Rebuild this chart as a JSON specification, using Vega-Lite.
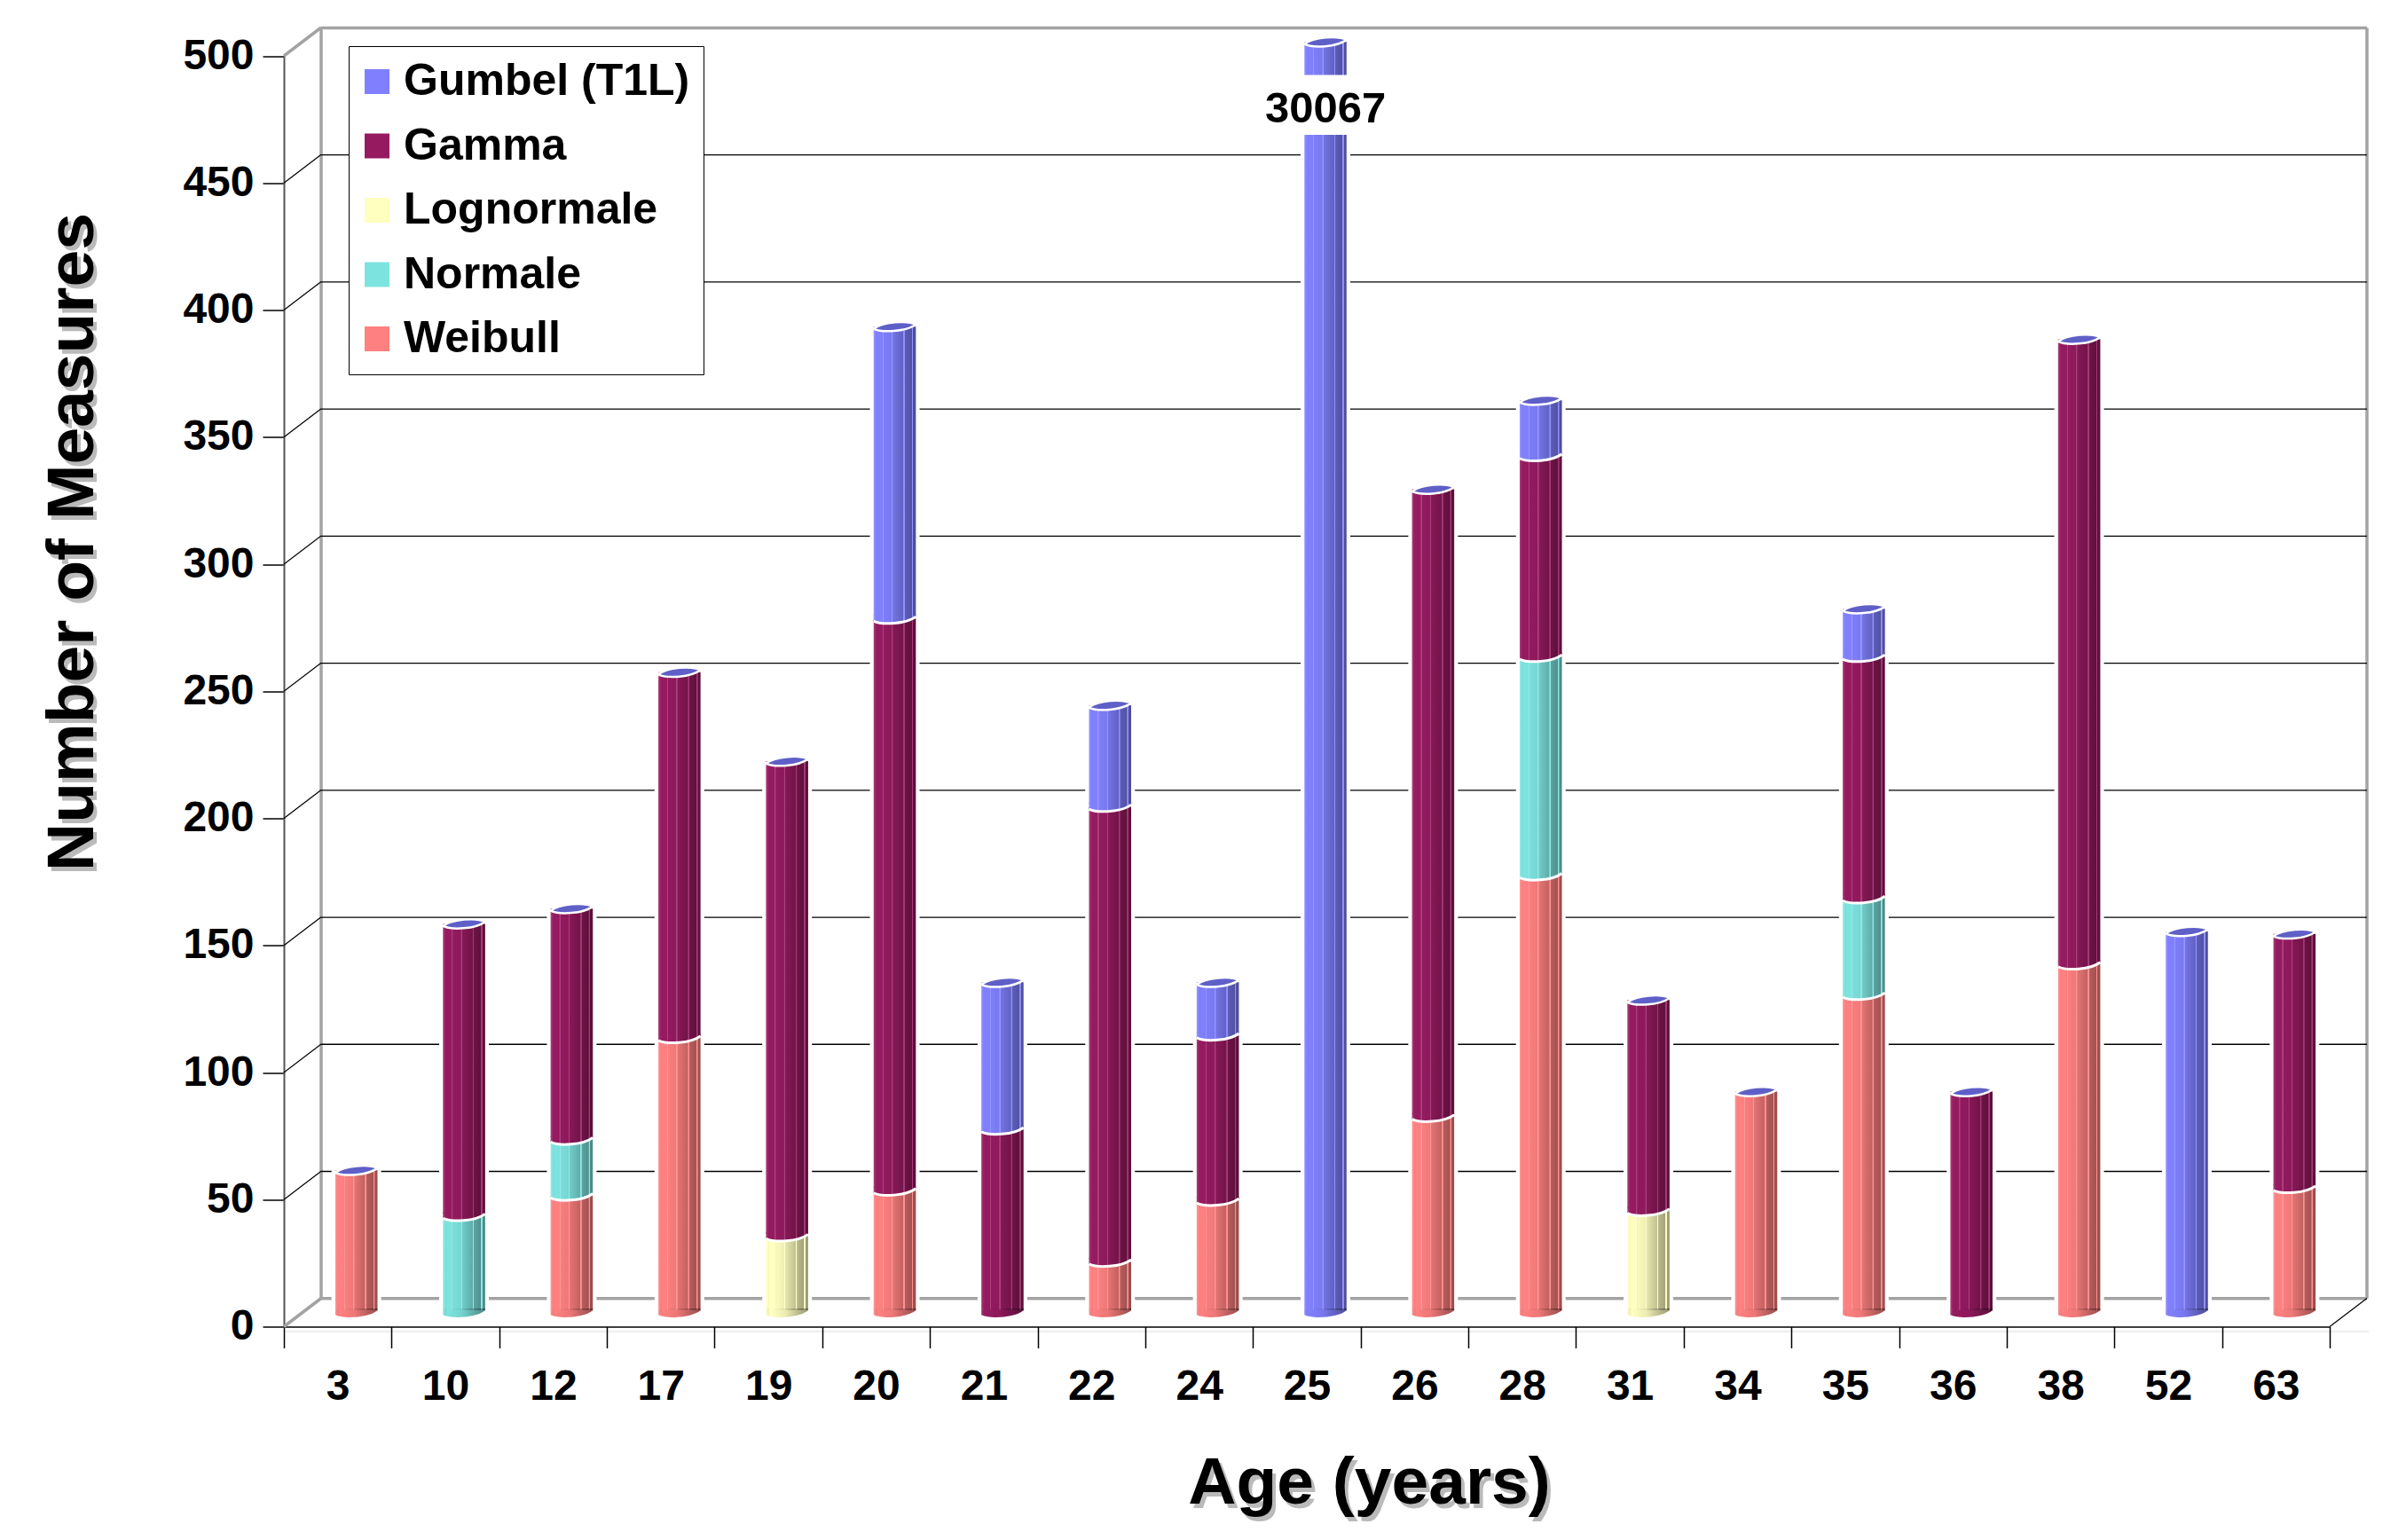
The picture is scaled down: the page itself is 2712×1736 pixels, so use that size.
{
"$schema":"https://vega.github.io/schema/vega-lite/v6.json",
"width":2350,"height":1466,
"padding":{"left":320,"top":29.5,"right":42,"bottom":240},
"autosize":{"type":"none"},
"background":"white",
"config":{"view":{"stroke":null},"font":"Liberation Sans"},
"datasets":{
"stack":[
{"age":"3","distribution":"Weibull","n":56,"rank":1},
{"age":"10","distribution":"Normale","n":38,"rank":2},
{"age":"10","distribution":"Gamma","n":115,"rank":4},
{"age":"12","distribution":"Weibull","n":46,"rank":1},
{"age":"12","distribution":"Normale","n":22,"rank":2},
{"age":"12","distribution":"Gamma","n":91,"rank":4},
{"age":"17","distribution":"Weibull","n":108,"rank":1},
{"age":"17","distribution":"Gamma","n":144,"rank":4},
{"age":"19","distribution":"Lognormale","n":30,"rank":3},
{"age":"19","distribution":"Gamma","n":187,"rank":4},
{"age":"20","distribution":"Weibull","n":48,"rank":1},
{"age":"20","distribution":"Gamma","n":225,"rank":4},
{"age":"20","distribution":"Gumbel (T1L)","n":115,"rank":5},
{"age":"21","distribution":"Gamma","n":72,"rank":4},
{"age":"21","distribution":"Gumbel (T1L)","n":58,"rank":5},
{"age":"22","distribution":"Weibull","n":20,"rank":1},
{"age":"22","distribution":"Gamma","n":179,"rank":4},
{"age":"22","distribution":"Gumbel (T1L)","n":40,"rank":5},
{"age":"24","distribution":"Weibull","n":44,"rank":1},
{"age":"24","distribution":"Gamma","n":65,"rank":4},
{"age":"24","distribution":"Gumbel (T1L)","n":21,"rank":5},
{"age":"25","distribution":"Gumbel (T1L)","n":30067,"rank":5},
{"age":"26","distribution":"Weibull","n":77,"rank":1},
{"age":"26","distribution":"Gamma","n":247,"rank":4},
{"age":"28","distribution":"Weibull","n":172,"rank":1},
{"age":"28","distribution":"Normale","n":86,"rank":2},
{"age":"28","distribution":"Gamma","n":79,"rank":4},
{"age":"28","distribution":"Gumbel (T1L)","n":22,"rank":5},
{"age":"31","distribution":"Lognormale","n":40,"rank":3},
{"age":"31","distribution":"Gamma","n":83,"rank":4},
{"age":"34","distribution":"Weibull","n":87,"rank":1},
{"age":"35","distribution":"Weibull","n":125,"rank":1},
{"age":"35","distribution":"Normale","n":38,"rank":2},
{"age":"35","distribution":"Gamma","n":95,"rank":4},
{"age":"35","distribution":"Gumbel (T1L)","n":19,"rank":5},
{"age":"36","distribution":"Gamma","n":87,"rank":4},
{"age":"38","distribution":"Weibull","n":137,"rank":1},
{"age":"38","distribution":"Gamma","n":246,"rank":4},
{"age":"52","distribution":"Gumbel (T1L)","n":150,"rank":5},
{"age":"63","distribution":"Weibull","n":49,"rank":1},
{"age":"63","distribution":"Gamma","n":100,"rank":4}
],
"grid":[{"v":50},{"v":100},{"v":150},{"v":200},{"v":250},{"v":300},{"v":350},{"v":400},{"v":450}],
"rim":[{"v":0},{"v":500}],
"edges":[{"edge":0},{"edge":1}],
"ages":[{"age":"3"},{"age":"10"},{"age":"12"},{"age":"17"},{"age":"19"},{"age":"20"},{"age":"21"},{"age":"22"},{"age":"24"},{"age":"25"},{"age":"26"},{"age":"28"},{"age":"31"},{"age":"34"},{"age":"35"},{"age":"36"},{"age":"38"},{"age":"52"},{"age":"63"}]
},
"layer":[
{"data":{"name":"ages"},"mark":{"type":"rule","opacity":0},
 "encoding":{"x":{"field":"age","type":"nominal","sort":null,"scale":{"domain":["3","10","12","17","19","20","21","22","24","25","26","28","31","34","35","36","38","52","63"],"range":[4,2310],"paddingInner":0,"paddingOuter":0},
 "axis":{"orient":"bottom","title":"Age (years)","titleFontSize":75,"titleFont":"Liberation Sans","titleFontWeight":"bold","titleColor":"#8c8c8c","titleOpacity":0.6,"titleX":1227,"titleY":204,"titleAlign":"center","titleBaseline":"alphabetic","labels":false,"ticks":false,"domain":false}}}},
{"data":{"name":"rim"},"mark":{"type":"rule","opacity":0},
 "encoding":{"y":{"field":"v","type":"quantitative","scale":{"domain":[0,500],"range":[1471,38.5]},
 "axis":{"orient":"left","title":"Number of Measures","titleFontSize":75,"titleFont":"Liberation Sans","titleFontWeight":"bold","titleColor":"#8c8c8c","titleOpacity":0.6,"titleX":-212,"titleY":586,"titleAngle":-90,"titleAlign":"center","titleBaseline":"alphabetic","labels":false,"ticks":false,"domain":false,"values":[0]}}}},
{"data":{"name":"ages"},"mark":{"type":"rule","opacity":0},
 "encoding":{"x":{"field":"age","type":"nominal","sort":null,"scale":{"domain":["3","10","12","17","19","20","21","22","24","25","26","28","31","34","35","36","38","52","63"],"range":[0,2306],"paddingInner":0,"paddingOuter":0},
 "axis":{"orient":"bottom","title":"Age (years)","titleFontSize":75,"titleFont":"Liberation Sans","titleFontWeight":"bold","titleColor":"black","titleX":1223,"titleY":199,"titleAlign":"center","titleBaseline":"alphabetic","labelFont":"Liberation Sans","labelFontWeight":"bold","labelFontSize":48,"labelColor":"black","labelAngle":0,"labelPadding":20,"tickBand":"extent","tickSize":24,"tickColor":"black","tickWidth":1.5,"domainColor":"black","domainWidth":1.5,"grid":false}}}},
{"data":{"name":"edges"},"mark":{"type":"rule","color":"#a3a3a3","strokeWidth":3.5},
 "encoding":{"x":{"field":"edge","type":"quantitative","scale":{"domain":[0,1],"range":[42,2348]},"axis":null},
 "y":{"datum":0,"type":"quantitative","scale":{"domain":[0,500],"range":[1434.2,2]},"axis":null},"y2":{"datum":500}}},
{"data":{"name":"grid"},"mark":{"type":"rule","color":"black","strokeWidth":1.3},
 "encoding":{"x":{"datum":0,"type":"quantitative","scale":{"domain":[0,1],"range":[42,2348]},"axis":null},"x2":{"datum":1},
 "y":{"field":"v","type":"quantitative","scale":{"domain":[0,500],"range":[1434.2,2]},"axis":null}}},
{"data":{"name":"rim"},"mark":{"type":"rule","color":"#a3a3a3","strokeWidth":3.5},
 "encoding":{"x":{"datum":0,"type":"quantitative","scale":{"domain":[0,1],"range":[42,2348]},"axis":null},"x2":{"datum":1},
 "y":{"field":"v","type":"quantitative","scale":{"domain":[0,500],"range":[1434.2,2]},"axis":null}}},
{"data":{"name":"grid"},"mark":{"type":"rule","color":"black","strokeWidth":1.2,"y2Offset":-32},
 "encoding":{"x":{"datum":0,"type":"quantitative","scale":{"domain":[0,1],"range":[0,42]},"axis":null},"x2":{"datum":1},
 "y":{"field":"v","type":"quantitative","scale":{"domain":[0,500],"range":[1466,33.5]},
 "axis":{"orient":"left","title":"Number of Measures","titleFontSize":75,"titleFont":"Liberation Sans","titleFontWeight":"bold","titleColor":"black","titleX":-216,"titleY":581,"titleAngle":-90,"titleAlign":"center","titleBaseline":"alphabetic","values":[0,50,100,150,200,250,300,350,400,450,500],"labelFont":"Liberation Sans","labelFontWeight":"bold","labelFontSize":48,"labelColor":"black","labelPadding":10,"tickSize":24,"tickColor":"black","tickWidth":1.5,"domainColor":"#555555","domainWidth":2,"grid":false}},"y2":{"field":"v"}}},
{"data":{"name":"rim"},"mark":{"type":"rule","color":"#a3a3a3","strokeWidth":3.5,"y2Offset":-32},
 "encoding":{"x":{"datum":0,"type":"quantitative","scale":{"domain":[0,1],"range":[0,42]},"axis":null},"x2":{"datum":1},
 "y":{"field":"v","type":"quantitative","scale":{"domain":[0,500],"range":[1466,33.5]},"axis":null},"y2":{"field":"v"}}},
{"data":{"values":[{"v":0}]},"mark":{"type":"rule","color":"black","strokeWidth":1.2,"y2Offset":-32},
 "encoding":{"x":{"datum":0,"type":"quantitative","scale":{"domain":[0,1],"range":[2306,2348]},"axis":null},"x2":{"datum":1},
 "y":{"field":"v","type":"quantitative","scale":{"domain":[0,500],"range":[1466,33.5]},"axis":null},"y2":{"field":"v"}}},
{"data":{"name":"stack"},
 "transform":[
  {"stack":"n","groupby":["age"],"sort":[{"field":"rank","order":"ascending"}],"as":["y0","y1"]},
  {"joinaggregate":[{"op":"max","field":"y1","as":"top"}],"groupby":["age"]}
 ],
 "encoding":{"x":{"field":"age","type":"nominal","sort":null,"scale":{"domain":["3","10","12","17","19","20","21","22","24","25","26","28","31","34","35","36","38","52","63"],"range":[21,2327],"paddingInner":0,"paddingOuter":0},"axis":null}},
 "layer":[
 {"mark":{"type":"bar","fill":"white","width":56},
  "encoding":{"y":{"field":"y1","type":"quantitative","scale":{"domain":[0,500],"range":[1450.25,17.75],"clamp":true},"axis":null},"y2":{"field":"y0"}}},
 {"mark":{"type":"bar","width":47.5,"y2Offset":-3},
  "encoding":{"y":{"field":"y1","type":"quantitative","scale":{"domain":[0,500],"range":[1450.25,17.75],"clamp":true},"axis":null},"y2":{"field":"y0"},
  "color":{"field":"distribution","type":"nominal","scale":{"domain":["Gumbel (T1L)","Gamma","Lognormale","Normale","Weibull"],"range":["#8080ff","#961a60","#ffffc0","#7de3df","#ff8080"]},
  "legend":{"title":null,"orient":"none","legendX":73,"legendY":22.5,"symbolType":"square","symbolSize":784,"symbolStrokeWidth":0,"symbolOpacity":1,"symbolOffset":-8,"labelFont":"Liberation Sans","labelFontWeight":"bold","labelFontSize":50,"labelColor":"black","labelOffset":5,"labelLimit":600,"rowPadding":22.5,"padding":15,"strokeColor":"black","fillColor":"white"}}}},
 {"mark":{"type":"point","filled":true,"opacity":1,"size":2256,"shape":"M-1,-.2 L-1,.105 C-.6,.30 .55,.25 1,-.105 L1,-.2 Z"},
  "encoding":{"y":{"field":"y0","type":"quantitative","scale":{"domain":[0,500],"range":[1450.25,17.75],"clamp":true},"axis":null},
  "color":{"field":"distribution","type":"nominal","legend":null}}},
 {"transform":[{"filter":"datum.y1 === datum.top"}],
  "mark":{"type":"bar","width":47.5,"y2Offset":-3,"fill":{"gradient":"linear","x1":0,"x2":1,"y1":0,"y2":0,"stops":[{"offset":0,"color":"rgba(255,255,255,0.22)"},{"offset":0.03,"color":"rgba(255,255,255,0.08)"},{"offset":0.1,"color":"rgba(0,0,0,0)"},{"offset":0.2,"color":"rgba(0,0,0,0)"},{"offset":0.21,"color":"rgba(255,255,255,0.18)"},{"offset":0.23,"color":"rgba(255,255,255,0.18)"},{"offset":0.24,"color":"rgba(0,0,0,0.02)"},{"offset":0.42,"color":"rgba(0,0,0,0.06)"},{"offset":0.43,"color":"rgba(255,255,255,0.18)"},{"offset":0.45,"color":"rgba(255,255,255,0.18)"},{"offset":0.46,"color":"rgba(0,0,0,0.1)"},{"offset":0.7,"color":"rgba(0,0,0,0.24)"},{"offset":0.71,"color":"rgba(255,255,255,0.14)"},{"offset":0.73,"color":"rgba(255,255,255,0.14)"},{"offset":0.74,"color":"rgba(0,0,0,0.28)"},{"offset":0.9,"color":"rgba(0,0,0,0.36)"},{"offset":0.91,"color":"rgba(255,255,255,0.14)"},{"offset":0.93,"color":"rgba(255,255,255,0.14)"},{"offset":0.94,"color":"rgba(0,0,0,0.38)"},{"offset":1,"color":"rgba(0,0,0,0.4)"}]}},
  "encoding":{"y":{"field":"top","type":"quantitative","scale":{"domain":[0,500],"range":[1450.25,17.75],"clamp":true},"axis":null},"y2":{"datum":0}}},
 {"transform":[{"filter":"datum.y1 === datum.top"}],
  "mark":{"type":"point","filled":true,"opacity":1,"size":2256,"shape":"M-1,-.2 L-1,.105 C-.6,.30 .55,.25 1,-.105 L1,-.2 Z","fill":{"gradient":"linear","x1":0,"x2":1,"y1":0,"y2":0,"stops":[{"offset":0,"color":"rgba(255,255,255,0.2)"},{"offset":0.1,"color":"rgba(0,0,0,0)"},{"offset":0.45,"color":"rgba(0,0,0,0.07)"},{"offset":0.75,"color":"rgba(0,0,0,0.26)"},{"offset":1,"color":"rgba(0,0,0,0.4)"}]}},
  "encoding":{"y":{"datum":0,"type":"quantitative","scale":{"domain":[0,500],"range":[1450.25,17.75],"clamp":true},"axis":null}}},
 {"transform":[{"filter":"datum.y0 > 0"}],
  "mark":{"type":"point","filled":false,"opacity":1,"size":2256,"stroke":"white","strokeWidth":3,"shape":"M-1,.105 C-.6,.30 .55,.25 1,-.105"},
  "encoding":{"y":{"field":"y0","type":"quantitative","scale":{"domain":[0,500],"range":[1450.25,17.75],"clamp":true},"axis":null}}},
 {"transform":[{"filter":"datum.y1 === datum.top"}],
  "mark":{"type":"point","filled":true,"opacity":1,"size":2256,"fill":"#5f5fc8","stroke":"white","strokeWidth":2.5,"shape":"M-1,.105 C-.6,.30 .55,.25 1,-.105 C.6,-.30 -.55,-.25 -1,.105 Z"},
  "encoding":{"y":{"field":"top","type":"quantitative","scale":{"domain":[0,500],"range":[1450.25,17.75],"clamp":true},"axis":null}}},
 {"transform":[{"filter":"datum.age === '25'"}],
  "mark":{"type":"bar","fill":"white","width":56},
  "encoding":{"y":{"datum":487,"type":"quantitative","scale":{"domain":[0,500],"range":[1450.25,17.75],"clamp":true},"axis":null},"y2":{"datum":463.4}}},
 {"transform":[{"filter":"datum.age === '25'"}],
  "mark":{"type":"text","font":"Liberation Sans","fontWeight":"bold","fontSize":49,"color":"black","baseline":"middle","align":"center","dy":76},
  "encoding":{"y":{"field":"top","type":"quantitative","scale":{"domain":[0,500],"range":[1450.25,17.75],"clamp":true},"axis":null},"text":{"field":"top","type":"quantitative","format":"d"}}}
 ]
}
],
"resolve":{"scale":{"x":"independent","y":"independent","color":"independent"},"axis":{"x":"independent","y":"independent"}}
}
